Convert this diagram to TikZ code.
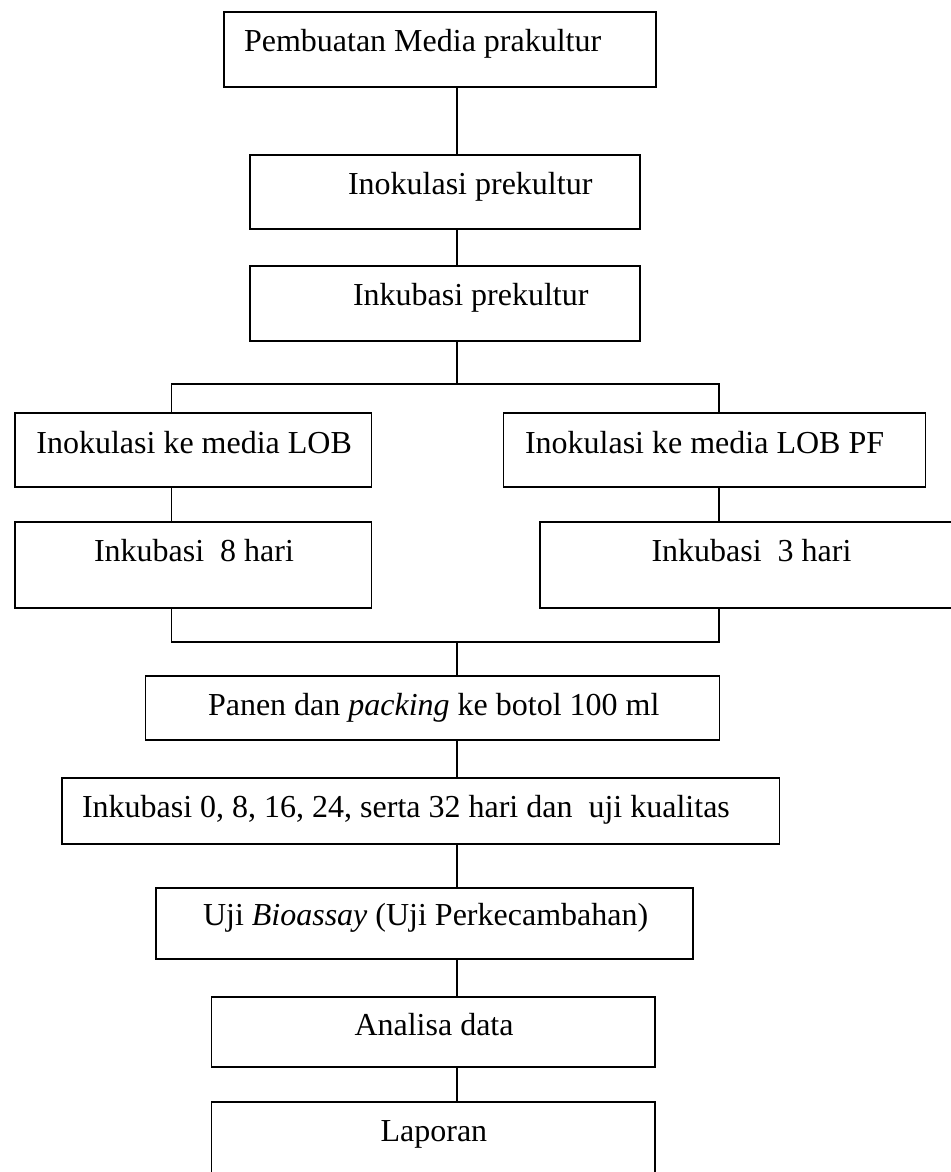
\documentclass[tikz,border=0pt]{standalone}
\usepackage{fontspec}
\setmainfont{Liberation Serif}
\begin{document}
\begin{tikzpicture}[x=1pt,y=-1pt,
  box/.style={draw=black,line width=1.8pt,inner sep=0pt,outer sep=0pt},
  lbl/.style={inner sep=0pt,outer sep=0pt,anchor=base west,font=\fontsize{32}{38}\selectfont},
  conn/.style={draw=black,line width=1.3pt}]
\useasboundingbox (0,0) rectangle (950,1172);
% boxes
\node[box,minimum width=432pt,minimum height=74.4pt] (b1) at (440,49.5) {};
\node[box,minimum width=390pt,minimum height=74pt] (b2) at (445,192) {};
\node[box,minimum width=390pt,minimum height=75pt] (b3) at (445,303.5) {};
\node[box,minimum width=356.5pt,minimum height=74pt] (b4L) at (193.25,450) {};
\node[box,minimum width=422pt,minimum height=74pt] (b4R) at (714.5,450) {};
\node[box,minimum width=356.5pt,minimum height=86pt] (b5L) at (193.25,565) {};
\node[box,minimum width=418pt,minimum height=86pt] (b5R) at (749,565) {};
\node[box,minimum width=574pt,minimum height=64pt] (b6) at (432.5,708) {};
\node[box,minimum width=717.4pt,minimum height=66pt] (b7) at (420.7,811) {};
\node[box,minimum width=536.3pt,minimum height=71.3pt] (b8) at (424.5,923.6) {};
\node[box,minimum width=443.5pt,minimum height=69.7pt] (b9) at (433.25,1031.8) {};
\node[box,minimum width=443.5pt,minimum height=78pt] (b10) at (433.25,1141) {};
% labels
\node[lbl] (t1) at (244,52) {Pembuatan Media prakultur};
\node[lbl] (t2) at (348,194.3) {Inokulasi prekultur};
\node[lbl] (t3) at (353,305) {Inkubasi prekultur};
\node[lbl] (t4L) at (36.4,453.3) {Inokulasi ke media LOB};
\node[lbl] (t4R) at (525,453.3) {Inokulasi ke media LOB PF};
\node[lbl] (t5L) at (94,561.7) {Inkubasi\ \ 8 hari};
\node[lbl] (t5R) at (651.5,561.7) {Inkubasi\ \ 3 hari};
\node[lbl] (t6) at (208,715) {Panen dan \textit{packing} ke botol 100 ml};
\node[lbl] (t7) at (82,817.3) {Inkubasi 0, 8, 16, 24, serta 32 hari dan\ \ uji kualitas};
\node[lbl] (t8) at (203,925.7) {Uji \textit{Bioassay} (Uji Perkecambahan)};
\node[lbl] (t9) at (354.5,1035.7) {Analisa data};
\node[lbl] (t10) at (380.6,1141.7) {Laporan};
% coordinates
\coordinate (sp) at (457,0);
\coordinate (barL) at (171.5,384);
\coordinate (barR) at (719,384);
\coordinate (jL) at (171.5,642);
\coordinate (jR) at (719,642);
% connectors
\draw[conn] (b1.south -| sp) -- (b2.north -| sp);
\draw[conn] (b2.south -| sp) -- (b3.north -| sp);
\draw[conn] (b3.south -| sp) -- (sp |- barL);
\draw[conn] (b4L.north -| barL) -- (barL) -- (barR) -- (b4R.north -| barR);
\draw[conn] (b4L.south -| barL) -- (b5L.north -| barL);
\draw[conn] (b4R.south -| barR) -- (b5R.north -| barR);
\draw[conn] (b5L.south -| jL) -- (jL) -- (jR) -- (b5R.south -| jR);
\draw[conn] (sp |- jL) -- (b6.north -| sp);
\draw[conn] (b6.south -| sp) -- (b7.north -| sp);
\draw[conn] (b7.south -| sp) -- (b8.north -| sp);
\draw[conn] (b8.south -| sp) -- (b9.north -| sp);
\draw[conn] (b9.south -| sp) -- (b10.north -| sp);
\end{tikzpicture}
\end{document}
